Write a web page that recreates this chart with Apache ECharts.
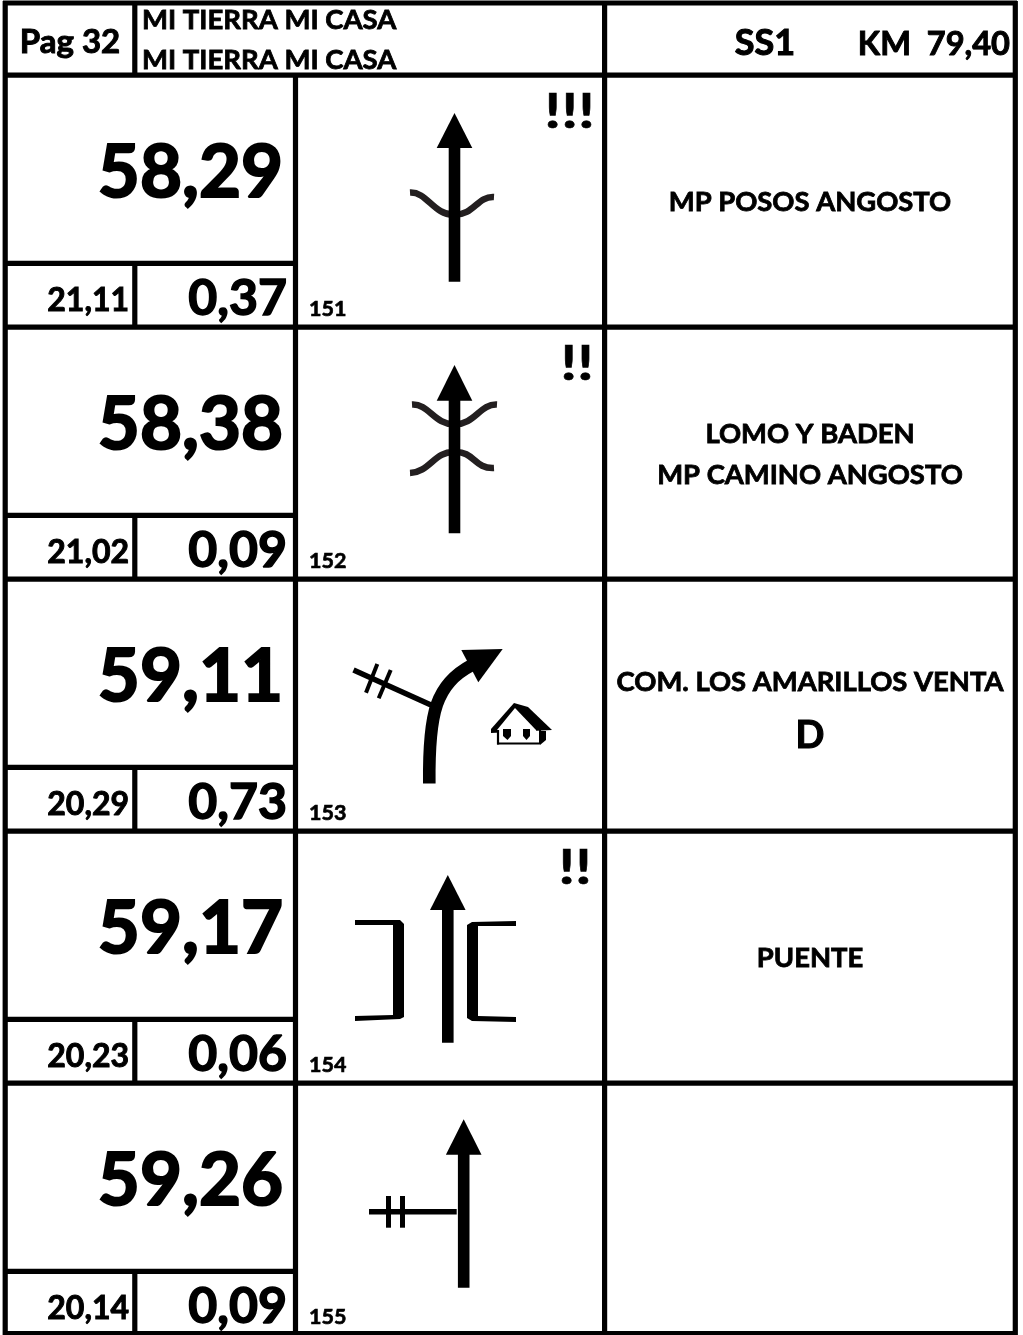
<!DOCTYPE html>
<html>
<head>
<meta charset="utf-8">
<style>html,body{margin:0;padding:0;background:#fff}#c{width:1023px;height:1335px}</style>
<script src="https://cdn.jsdelivr.net/npm/echarts@6/dist/echarts.min.js"></script>
</head>
<body>
<div id="c"></div>
<script>
const pageLabel = 'Pag 32';
const headerTitles = ['MI TIERRA MI CASA', 'MI TIERRA MI CASA'];
const stageLabel = 'SS1';
const stageKm = 'KM  79,40';
const totals = ['58,29', '58,38', '59,11', '59,17', '59,26'];
const remaining = ['21,11', '21,02', '20,29', '20,23', '20,14'];
const partials = ['0,37', '0,09', '0,73', '0,06', '0,09'];
const ids = ['151', '152', '153', '154', '155'];
const alerts = ['!!!', '!!', '', '!!', ''];
const alertRight = [595, 594, 0, 592, 0];
const notes = [['MP POSOS ANGOSTO'], ['LOMO Y BADEN', 'MP CAMINO ANGOSTO'], ['COM. LOS AMARILLOS VENTA', 'D'], ['PUENTE'], []];

const FONT = 'Lato';
const BLACK = '#000';
const DARK = '#231f20';
const rowTop = 75, rowH = 252;

const chart = echarts.init(document.getElementById('c'), null, {renderer: 'canvas'});

function tools(api) {
  const P = (x, y) => api.coord([x, y]);
  const line = (x1, y1, x2, y2, w, color) => {
    const a = P(x1, y1), b = P(x2, y2);
    return {type: 'line', shape: {x1: a[0], y1: a[1], x2: b[0], y2: b[1]}, style: {stroke: color || BLACK, lineWidth: w, fill: null}};
  };
  const poly = (pts, fill) => ({type: 'polygon', shape: {points: pts.map(p => P(p[0], p[1]))}, style: {fill: fill || BLACK}});
  const curve = (p0, c1, c2, p1, w, color) => {
    const a = P(p0[0], p0[1]), b = P(c1[0], c1[1]), c = P(c2[0], c2[1]), d = P(p1[0], p1[1]);
    return {type: 'bezierCurve', shape: {x1: a[0], y1: a[1], cpx1: b[0], cpy1: b[1], cpx2: c[0], cpy2: c[1], x2: d[0], y2: d[1]}, style: {stroke: color || BLACK, lineWidth: w, fill: null}};
  };
  const text = (x, y, s, size, align, sx) => {
    const a = P(x, y);
    const el = {type: 'text', x: a[0], y: a[1], style: {x: 0, y: 0, text: s, font: 'bold ' + size + 'px ' + FONT, fill: BLACK, stroke: BLACK, lineWidth: size * (sx ? 0.012 : 0.03), align: align || 'left', verticalAlign: 'middle'}};
    if (sx) el.scaleX = sx;
    return el;
  };
  const rect = (x, y, w, h, fill) => {
    const a = P(x, y), b = P(x + w, y + h);
    return {type: 'rect', shape: {x: a[0], y: a[1], width: b[0] - a[0], height: b[1] - a[1]}, style: {fill: fill || BLACK}};
  };
  return {P, line, poly, curve, text, rect};
}

function arrow(t, cx, tip, base, bottom) {
  return [
    t.rect(cx - 5.8, base - 1, 11.6, bottom - base + 1),
    t.poly([[cx, tip], [cx + 17.8, base], [cx - 17.8, base]])
  ];
}
function waveDown(t, lx, ly, cx, cy, rx, ry) {
  return [
    t.curve([lx, ly], [lx + 17, ly - 1], [cx - 20, cy + 1], [cx, cy], 6.5, DARK),
    t.curve([cx, cy], [cx + 20, cy + 1], [rx - 17, ry - 1], [rx, ry], 6.5, DARK)
  ];
}
function waveUp(t, lx, ly, cx, cy, rx, ry) {
  return [
    t.curve([lx, ly], [lx + 20, ly - 1], [cx - 20, cy - 1], [cx, cy], 6.5, DARK),
    t.curve([cx, cy], [cx + 20, cy - 1], [rx - 20, ry + 1], [rx, ry], 6.5, DARK)
  ];
}
const diagrams = [
  t => [].concat(
    waveDown(t, 410, 192.5, 454, 214.5, 494, 197),
    arrow(t, 454.5, 113, 148, 281.7)
  ),
  t => [].concat(
    waveDown(t, 412, 404.5, 454.5, 424, 497, 404.5),
    waveUp(t, 410, 473, 454.5, 452, 494, 468),
    arrow(t, 454.5, 365, 400.7, 533.3)
  ),
  t => [
    t.line(353.5, 670, 431, 705, 5.5),
    t.line(377.3, 664, 366, 692.7, 4),
    t.line(390.7, 670, 378.7, 698.3, 4),
    t.curve([429.3, 783.5], [428.5, 712], [436, 684], [472, 665], 12.6),
    t.poly([[461.3, 650], [502.7, 649], [478.3, 682.3]]),
    t.poly([[491, 729], [514, 703], [528, 707], [552, 730], [491, 733]]),
    t.poly([[497, 730], [515, 708], [536, 730], [538, 742], [499, 742]], '#fff'),
    t.line(498, 730, 498, 744.5, 2.2),
    t.line(497, 743.5, 540, 743.5, 2.2),
    t.line(540, 730, 540, 744, 2),
    t.poly([[540, 731], [546, 731], [546, 740], [540, 745]]),
    t.poly([[503, 729], [511, 729], [511, 736], [507.5, 740], [503, 736]]),
    t.poly([[523, 729], [530, 729], [530, 736], [526.5, 740], [523, 736]])
  ],
  t => [].concat(
    arrow(t, 447.8, 875, 910, 1042.7),
    [
      t.poly([[355, 920], [400, 920], [404, 924], [404, 1017], [400, 1019], [355, 1021], [355, 1016], [393, 1015], [393, 925], [355, 925]]),
      t.poly([[516, 921], [472, 922], [467, 925], [467, 1018], [472, 1021], [516, 1022], [516, 1017], [478, 1016], [478, 926], [516, 926]])
    ]
  ),
  t => [].concat(
    arrow(t, 463.7, 1119.3, 1154.7, 1287.7),
    [
      t.line(369, 1211.7, 456.7, 1211.7, 5.5),
      t.rect(386, 1196, 5, 31.7),
      t.rect(400, 1196, 5, 31.7)
    ]
  )
];

const LW = 5.2;
function renderFrame(params, api) {
  const t = tools(api);
  return {type: 'group', children: [
    t.line(3, 3, 1017, 3, LW),
    t.line(5.2, 1, 5.2, 1335, LW),
    t.line(1015.3, 1, 1015.3, 1335, LW),
    t.line(604.6, 1, 604.6, 1335, LW),
    t.line(134.8, 3, 134.8, 75, LW),
    t.line(3, 1333.5, 1017, 1333.5, LW)
  ]};
}
function renderRow(params, api) {
  const t = tools(api);
  const i = api.value(0);
  const top = rowTop + i * rowH;
  const ch = [
    t.line(3, top + 0.2, 1017, top + 0.2, LW),
    t.line(295.5, top, 295.5, top + rowH, LW),
    t.line(5, top + 188.3, 295.5, top + 188.3, LW),
    t.line(134.8, top + 188.3, 134.8, top + rowH, LW),
    t.text(283, top + 99, totals[i], 72.5, 'right'),
    t.text(129, top + 226, remaining[i], 32, 'right'),
    t.text(287, top + 224, partials[i], 50, 'right'),
    t.text(309, top + 234, ids[i], 21.5, 'left')
  ];
  if (alerts[i]) ch.push(t.text(alertRight[i], top + 38, alerts[i], 47, 'right', 1.28));
  const n = notes[i];
  if (n.length === 1) ch.push(t.text(810, top + 127.5, n[0], 27.4, 'center'));
  if (i === 1) {
    ch.push(t.text(810, top + 107.5, n[0], 27.4, 'center'));
    ch.push(t.text(810, top + 148.5, n[1], 27.4, 'center'));
  }
  if (i === 2) {
    ch.push(t.text(810, top + 103.5, n[0], 27.4, 'center'));
    ch.push(t.text(810, top + 157, n[1], 38, 'center'));
  }
  return {type: 'group', children: ch.concat(diagrams[i](t))};
}
function renderHeader(params, api) {
  const t = tools(api);
  return {type: 'group', children: [
    t.text(70, 42.5, pageLabel, 33, 'center'),
    t.text(142, 20.5, headerTitles[0], 27.5, 'left'),
    t.text(142, 60.5, headerTitles[1], 27.5, 'left'),
    t.text(765, 43, stageLabel, 36, 'center'),
    t.text(1010, 44, stageKm, 32.6, 'right')
  ]};
}

chart.setOption({
  animation: false,
  backgroundColor: '#fff',
  tooltip: {show: false},
  grid: {left: 0, right: 0, top: 0, bottom: 0, containLabel: false},
  xAxis: {type: 'value', min: 0, max: 1023, show: false},
  yAxis: {type: 'value', min: 0, max: 1335, inverse: true, show: false},
  series: [
    {type: 'custom', silent: true, clip: false, renderItem: renderFrame, data: [[0]]},
    {type: 'custom', silent: true, clip: false, renderItem: renderRow, data: ids.map((d, i) => [i]), encode: {x: 0, y: 0}},
    {type: 'custom', silent: true, clip: false, renderItem: renderHeader, data: [[0]]}
  ]
});
</script>
</body>
</html>
